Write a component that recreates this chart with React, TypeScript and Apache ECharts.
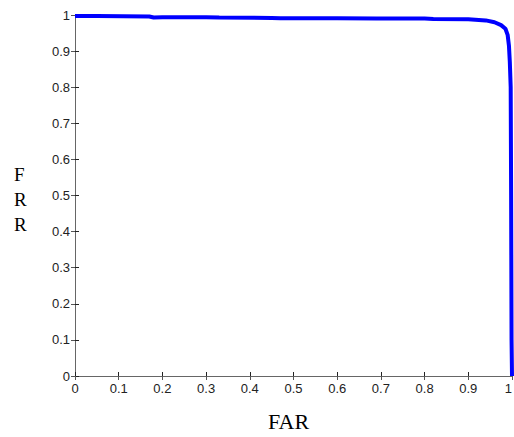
import React, { useEffect, useRef } from "react";
import * as echarts from "echarts";

const farValues = [0, 0.05, 0.17, 0.18, 0.2, 0.3, 0.33, 0.45, 0.47, 0.6, 0.69, 0.7, 0.8, 0.82, 0.9, 0.94, 0.96, 0.975, 0.985, 0.99, 0.993, 0.995, 0.997, 0.998, 0.999, 1];
const frrValues = [0.997, 0.997, 0.996, 0.993, 0.994, 0.994, 0.993, 0.992, 0.991, 0.991, 0.99, 0.99, 0.99, 0.989, 0.988, 0.985, 0.98, 0.972, 0.962, 0.945, 0.915, 0.87, 0.8, 0.5, 0.1, 0];
const yLetters = ["F", "R", "R"];
const xTitle = "FAR";

export default function App() {
  const ref = useRef<HTMLDivElement>(null);
  useEffect(() => {
    if (!ref.current) return;
    const chart = echarts.init(ref.current, undefined, { renderer: "svg" });
    const data = farValues.map((x, i) => [x, frrValues[i]]);
    const labelStyle = { color: "#222", fontFamily: "Arial, Liberation Sans, sans-serif", fontSize: 13 };
    const fmt = (v: number) => String(Math.round(v * 10) / 10);
    chart.setOption({
      animation: false,
      backgroundColor: "#fff",
      grid: { left: 75, top: 15, width: 437, height: 361, outerBoundsMode: "none", containLabel: false },
      xAxis: [
        {
          type: "value", min: 0, max: 1, interval: 0.1, position: "bottom",
          axisLine: { show: true, lineStyle: { color: "#222", width: 1 } },
          axisTick: { show: true, inside: true, length: 4, lineStyle: { color: "#222" } },
          axisLabel: { ...labelStyle, margin: 6, formatter: fmt, alignMaxLabel: "right" },
          splitLine: { show: false },
        },
        {
          type: "value", min: 0, max: 1, interval: 0.1, position: "top",
          axisLine: { show: true, lineStyle: { color: "#666", width: 1 } },
          axisTick: { show: true, inside: true, length: 4, lineStyle: { color: "#555" } },
          axisLabel: { show: false },
          splitLine: { show: false },
        },
      ],
      yAxis: [
        {
          type: "value", min: 0, max: 1, interval: 0.1, position: "left",
          axisLine: { show: true, lineStyle: { color: "#222", width: 1 } },
          axisTick: { show: true, inside: true, length: 4, lineStyle: { color: "#222" } },
          axisLabel: { ...labelStyle, margin: 5, formatter: fmt },
          splitLine: { show: false },
        },
        {
          type: "value", min: 0, max: 1, interval: 0.1, position: "right",
          axisLine: { show: true, lineStyle: { color: "#666", width: 1 } },
          axisTick: { show: true, inside: true, length: 4, lineStyle: { color: "#555" } },
          axisLabel: { show: false },
          splitLine: { show: false },
        },
      ],
      series: [
        {
          type: "line",
          data,
          xAxisIndex: 0,
          yAxisIndex: 0,
          showSymbol: false,
          symbol: "none",
          clip: false,
          lineStyle: { color: "#0000ff", width: 4 },
        },
      ],
      graphic: [
        ...yLetters.map((ch, i) => ({
          type: "text",
          left: 14,
          top: 165 + i * 25,
          style: { text: ch, fontFamily: "Liberation Serif, Times New Roman, serif", fontSize: 19, fill: "#000" },
        })),
        {
          type: "text",
          left: 268,
          top: 410,
          style: { text: xTitle, fontFamily: "Liberation Serif, Times New Roman, serif", fontSize: 22, fill: "#000" },
        },
      ],
    });
    return () => chart.dispose();
  }, []);
  return <div ref={ref} style={{ position: "fixed", left: 0, top: 0, width: 514, height: 437 }} />;
}
